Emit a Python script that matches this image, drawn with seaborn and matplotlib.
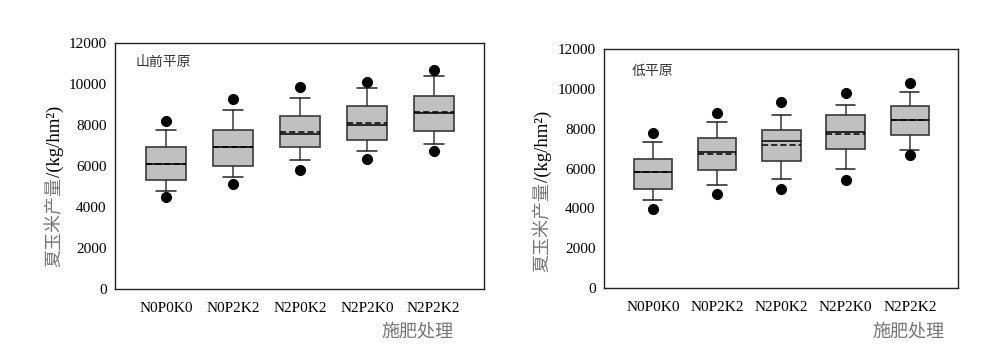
import numpy as np
import matplotlib
matplotlib.use("Agg")
import matplotlib.pyplot as plt
import seaborn as sns

treatments = ["N0P0K0", "N0P2K2", "N2P0K2", "N2P2K0", "N2P2K2"]
regions = ["山前平原", "低平原"]

# box statistics (kg/hm2)
# 山前平原
sq_low_out = [4470, 5120, 5790, 6340, 6750]
sq_whislo = [4780, 5480, 6310, 6750, 7090]
sq_q1 = [5330, 6020, 6910, 7280, 7720]
sq_med = [6100, 6930, 7560, 8020, 8570]
sq_mean = [6100, 6930, 7660, 8100, 8620]
sq_q3 = [6930, 7770, 8420, 8910, 9400]
sq_whishi = [7770, 8730, 9320, 9800, 10370]
sq_high_out = [8180, 9270, 9850, 10110, 10670]

# 低平原
dp_low_out = [3980, 4740, 4990, 5440, 6660]
dp_whislo = [4420, 5190, 5470, 5970, 6930]
dp_q1 = [4970, 5920, 6380, 6980, 7700]
dp_med = [5810, 6810, 7380, 7820, 8450]
dp_mean = [5830, 6730, 7180, 7730, 8450]
dp_q3 = [6480, 7530, 7930, 8670, 9120]
dp_whishi = [7310, 8330, 8700, 9200, 9840]
dp_high_out = [7780, 8790, 9360, 9810, 10290]


def make_stats(lo_out, wlo, q1, med, mean, q3, whi, hi_out):
    stats = []
    for i, name in enumerate(treatments):
        stats.append(dict(label=name, whislo=wlo[i], q1=q1[i], med=med[i],
                          mean=mean[i], q3=q3[i], whishi=whi[i],
                          fliers=[lo_out[i], hi_out[i]]))
    return stats


sns.set_theme(style="white")
plt.rcParams["font.family"] = ["Liberation Serif", "Noto Sans CJK SC"]

fig = plt.figure(figsize=(10, 3.53), dpi=100)
ax1 = fig.add_axes([0.115, 0.181, 0.369, 0.697])
ax2 = fig.add_axes([0.604, 0.184, 0.354, 0.677])

all_stats = [
    make_stats(sq_low_out, sq_whislo, sq_q1, sq_med, sq_mean, sq_q3, sq_whishi, sq_high_out),
    make_stats(dp_low_out, dp_whislo, dp_q1, dp_med, dp_mean, dp_q3, dp_whishi, dp_high_out),
]

gray_txt = "#767676"
for ax, stats, region, lab_pos in zip([ax1, ax2], all_stats, regions,
                                     [(0.055, 0.925), (0.078, 0.91)]):
    ax.bxp(stats, positions=range(len(treatments)), widths=0.6,
           patch_artist=True, showmeans=True, meanline=True,
           boxprops=dict(facecolor="#c0c0c0", edgecolor="#3a3a3a", linewidth=1.2),
           medianprops=dict(color="black", linewidth=1.1),
           meanprops=dict(color="black", linestyle=(0, (4, 2)), linewidth=1.1),
           whiskerprops=dict(color="#3a3a3a", linewidth=1.1),
           capprops=dict(color="#222222", linewidth=1.1),
           flierprops=dict(marker="o", markerfacecolor="black",
                           markeredgecolor="black", markersize=7))
    ax.set_xlim(-0.76, 4.75)
    ax.set_ylim(0, 12000)
    ax.set_yticks(np.arange(0, 12001, 2000))
    ax.set_xticks(range(len(treatments)))
    ax.set_xticklabels(treatments)
    ax.tick_params(direction="in", length=4, width=0.9, colors="#222222",
                   labelsize=11, labelcolor="black")
    ax.tick_params(axis="x", pad=9)
    ax.tick_params(axis="y", pad=6)
    for s in ax.spines.values():
        s.set_color("#222222")
        s.set_linewidth(1.0)
        s.set_visible(True)
    ax.set_xlabel("")
    ax.set_ylabel("")
    ax.text(lab_pos[0], lab_pos[1], region, transform=ax.transAxes,
            fontsize=10, color="#333333", ha="left", va="center",
            family=["Noto Sans CJK SC"])

# y labels: grey Chinese part, black unit part
for x, y_split in [(0.055, 0.499), (0.543, 0.484)]:
    fig.text(x, y_split, "夏玉米产量", rotation=90, ha="center", va="top",
             fontsize=13, color=gray_txt, family=["Noto Sans CJK SC"])
    fig.text(x, y_split, "/(kg/hm²)", rotation=90, ha="center", va="bottom",
             fontsize=13.5, color="black")

# x labels
fig.text(0.417, 0.057, "施肥处理", ha="center", va="center", fontsize=13,
         color=gray_txt, family=["Noto Sans CJK SC"])
fig.text(0.908, 0.057, "施肥处理", ha="center", va="center", fontsize=13,
         color=gray_txt, family=["Noto Sans CJK SC"])

fig.savefig("out.png", dpi=100)
